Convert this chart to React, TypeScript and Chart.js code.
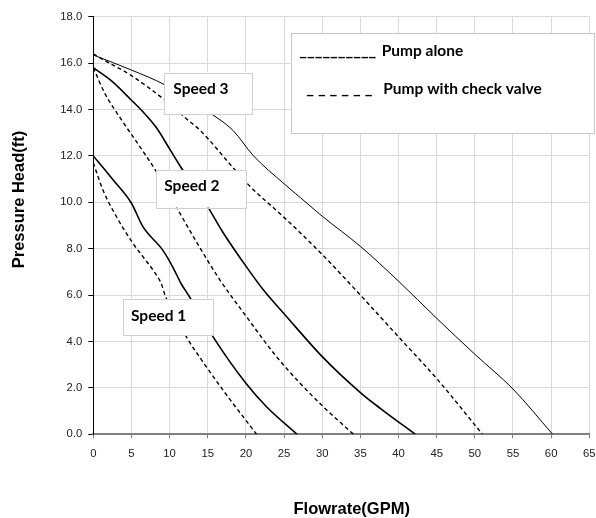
import React, { useEffect, useRef } from "react";
import { Chart, registerables } from "chart.js";
Chart.register(...registerables);

// ---------- data ----------
const xTickLabels = ["0", "5", "10", "15", "20", "25", "30", "35", "40", "45", "50", "55", "60", "65"];
const yTickLabels = ["0.0", "2.0", "4.0", "6.0", "8.0", "10.0", "12.0", "14.0", "16.0", "18.0"];

const speed1AloneX = [0, 2.5, 5, 6.5, 9.1, 10.4, 11.5, 12.6, 15.7, 20, 22.7, 26.7];
const speed1AloneY = [12.0, 11.0, 9.96, 8.95, 7.94, 7.22, 6.5, 5.93, 4.2, 2.2, 1.19, 0];

const speed1CheckX = [0, 1.3, 3, 5.2, 6.5, 8, 8.9, 9.4, 12.2, 14.2, 17.3, 21.4];
const speed1CheckY = [11.7, 10.5, 9.4, 8.23, 7.66, 7.0, 6.5, 6.0, 4.2, 3.2, 1.77, 0];

const speed2AloneX = [0, 2.5, 5, 6.5, 8.3, 10, 11.5, 15, 17, 20, 22.3, 25, 30, 35, 37.6, 42.2];
const speed2AloneY = [15.8, 15.2, 14.4, 13.9, 13.2, 12.3, 11.5, 9.8, 8.7, 7.25, 6.22, 5.2, 3.35, 1.8, 1.12, 0];

const speed2CheckX = [0, 1.5, 3.7, 6.1, 8.3, 11.1, 13.9, 16.6, 20, 24, 27.1, 30.1, 34.1];
const speed2CheckY = [15.8, 14.7, 13.55, 12.4, 11.3, 9.67, 8.08, 6.65, 5.1, 3.35, 2.2, 1.2, 0];

const speed3AloneX = [0, 5, 9.4, 15.7, 18.3, 21, 25, 28, 30, 35, 40, 45, 50, 55, 60.2];
const speed3AloneY = [16.35, 15.7, 15.06, 13.76, 13.1, 12.0, 10.8, 9.96, 9.4, 8.1, 6.6, 5.0, 3.45, 1.95, 0];

const speed3CheckX = [0, 1, 4.8, 9.4, 12.2, 14, 18.3, 20.5, 25, 30, 35, 40, 45, 51];
const speed3CheckY = [16.4, 16.2, 15.5, 14.4, 13.6, 13.1, 11.5, 10.7, 9.35, 7.75, 6.0, 4.2, 2.4, 0];

const speedLabels = ["Speed 1", "Speed 2", "Speed 3"];
const legendLabels = ["Pump alone", "Pump with check valve"];
const legendMarks = ["__________", "_ _ _ _ _ _"];
const xTitle = "Flowrate(GPM)";
const yTitle = "Pressure Head(ft)";

// ---------- helpers ----------
const pts = (xs: number[], ys: number[]) => xs.map((x, i) => ({ x, y: ys[i] }));

const boxFont = "bold 15.5px Lato";
const markFont = "bold 16.5px Lato";
const titleFont = "bold 16.5px 'Liberation Sans'";

// annotation boxes in data units: [x0, x1, yTop, yBottom, textX, textY]
const speedBoxes = [
  [3.85, 15.65, 5.82, 4.27, 4.94, 5.08],
  [8.22, 20.01, 11.39, 9.77, 9.3, 10.7],
  [9.3, 20.84, 15.59, 13.81, 10.48, 14.88],
];

const annotations = {
  id: "annotations",
  afterDatasetsDraw(chart: any) {
    const { ctx, scales } = chart;
    const xs = scales.x, ys = scales.y;
    ctx.save();
    speedBoxes.forEach((b, i) => {
      const x0 = xs.getPixelForValue(b[0]);
      const x1 = xs.getPixelForValue(b[1]);
      const y0 = ys.getPixelForValue(b[2]);
      const y1 = ys.getPixelForValue(b[3]);
      ctx.fillStyle = "#ffffff";
      ctx.fillRect(x0, y0, x1 - x0, y1 - y0);
      ctx.strokeStyle = "#d0d0d0";
      ctx.lineWidth = 1;
      ctx.strokeRect(Math.round(x0) + 0.5, Math.round(y0) + 0.5, Math.round(x1 - x0), Math.round(y1 - y0));
      ctx.fillStyle = "#000";
      ctx.font = boxFont;
      ctx.textAlign = "left";
      ctx.textBaseline = "middle";
      ctx.fillText(speedLabels[i], xs.getPixelForValue(b[4]), ys.getPixelForValue(b[5]));
    });
    // legend box
    const lx0 = xs.getPixelForValue(25.87);
    const lx1 = xs.getPixelForValue(65.53);
    const ly0 = ys.getPixelForValue(17.28);
    const ly1 = ys.getPixelForValue(12.97);
    ctx.fillStyle = "#ffffff";
    ctx.fillRect(lx0, ly0, lx1 - lx0, ly1 - ly0);
    ctx.strokeStyle = "#c8c8c8";
    ctx.strokeRect(Math.round(lx0) + 0.5, Math.round(ly0) + 0.5, Math.round(lx1 - lx0), Math.round(ly1 - ly0));
    ctx.fillStyle = "#000";
    ctx.textBaseline = "alphabetic";
    ctx.textAlign = "left";
    ctx.font = markFont;
    ctx.fillText(legendMarks[0], xs.getPixelForValue(27.0), ys.getPixelForValue(16.6) + 6.5);
    ctx.fillText(legendMarks[1], xs.getPixelForValue(27.9), ys.getPixelForValue(14.85) + 4);
    ctx.font = boxFont;
    ctx.fillText(legendLabels[0], xs.getPixelForValue(37.8), ys.getPixelForValue(16.6) + 6.5);
    ctx.fillText(legendLabels[1], xs.getPixelForValue(38.0), ys.getPixelForValue(14.85) + 4);
    ctx.restore();
  },
  afterDraw(chart: any) {
    const { ctx } = chart;
    ctx.save();
    ctx.fillStyle = "#000";
    ctx.font = titleFont;
    ctx.textAlign = "center";
    ctx.textBaseline = "alphabetic";
    ctx.fillText(xTitle, 351.7, 514);
    ctx.translate(23.5, 199.5);
    ctx.rotate(-Math.PI / 2);
    ctx.fillText(yTitle, 0, 0);
    ctx.restore();
  },
};

export default function App() {
  const ref = useRef<HTMLCanvasElement>(null);
  useEffect(() => {
    const canvas = ref.current!;
    const solid = (xs: number[], ys: number[], w: number) => ({
      data: pts(xs, ys),
      showLine: true,
      borderColor: "#000",
      borderWidth: w,
      pointRadius: 0,
      fill: false,
      cubicInterpolationMode: "monotone" as const,
    });
    const dashed = (xs: number[], ys: number[], w: number) => ({
      ...solid(xs, ys, w),
      borderDash: [4, 3],
    });
    const chart = new Chart(canvas, {
      type: "scatter",
      data: {
        datasets: [
          solid(speed1AloneX, speed1AloneY, 1.6),
          dashed(speed1CheckX, speed1CheckY, 1.4),
          solid(speed2AloneX, speed2AloneY, 1.6),
          dashed(speed2CheckX, speed2CheckY, 1.4),
          solid(speed3AloneX, speed3AloneY, 1),
          dashed(speed3CheckX, speed3CheckY, 1.4),
        ] as any,
      },
      options: {
        animation: false,
        responsive: true,
        maintainAspectRatio: false,
        layout: { padding: { left: 0, right: 6.7, top: 16.7, bottom: 0 } },
        plugins: { legend: { display: false }, tooltip: { enabled: false } },
        scales: {
          x: {
            type: "linear",
            min: 0,
            max: 65,
            ticks: {
              stepSize: 5,
              autoSkip: false,
              maxRotation: 0,
              padding: 9,
              color: "#222",
              font: { family: "'Liberation Sans'", size: 11.3 },
              callback: (_v: any, i: number) => xTickLabels[i],
            },
            grid: { color: "#d9d9d9", lineWidth: 1, tickLength: 4, tickColor: "#808080" },
            border: { color: "#808080", width: 2 },
            afterFit: (s: any) => {
              s.height = 518 - 434.3;
              s.paddingRight = 0;
              s.paddingLeft = 0;
            },
          },
          y: {
            type: "linear",
            min: 0,
            max: 18,
            ticks: {
              stepSize: 2,
              autoSkip: false,
              padding: 6,
              color: "#222",
              font: { family: "'Liberation Sans'", size: 11.3 },
              callback: (_v: any, i: number) => yTickLabels[i],
            },
            grid: { color: "#d9d9d9", lineWidth: 1, tickLength: 5, tickColor: "#000" },
            border: { color: "#000", width: 1 },
            afterFit: (s: any) => {
              s.width = 93.3;
              s.paddingTop = 0;
              s.paddingBottom = 0;
            },
          },
        },
      },
      plugins: [annotations],
    });
    return () => chart.destroy();
  }, []);
  return (
    <div style={{ position: "fixed", left: 0, top: 0, width: 596, height: 518, background: "#fff" }}>
      <canvas ref={ref} />
    </div>
  );
}
